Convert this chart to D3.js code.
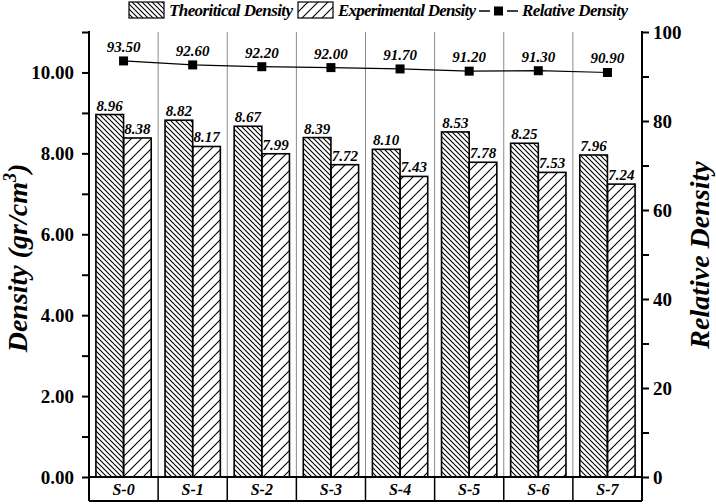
<!DOCTYPE html>
<html>
<head>
<meta charset="utf-8">
<script src="https://cdn.jsdelivr.net/npm/d3@7"></script>
<style>
  html, body { margin: 0; padding: 0; background: #fff; }
  svg { display: block; }
  svg text { font-family: "Liberation Serif", Tinos, "Times New Roman", Times, "DejaVu Serif", serif !important; }
</style>
</head>
<body>
<svg id="chart" width="716" height="504"></svg>
<script>
const categories = ["S-0", "S-1", "S-2", "S-3", "S-4", "S-5", "S-6", "S-7"];
const theoretical = [8.96, 8.82, 8.67, 8.39, 8.10, 8.53, 8.25, 7.96];
const experimental = [8.38, 8.17, 7.99, 7.72, 7.43, 7.78, 7.53, 7.24];
const relative = [93.50, 92.60, 92.20, 92.00, 91.70, 91.20, 91.30, 90.90];
const leftTicks = [0, 1, 2, 3, 4, 5, 6, 7, 8, 9, 10, 11];
const leftLabels = [0, 2, 4, 6, 8, 10];
const rightTicks = [0, 10, 20, 30, 40, 50, 60, 70, 80, 90, 100];
const rightLabels = [0, 20, 40, 60, 80, 100];
const seriesNames = ["Theoritical Density", "Experimental Density", "Relative Density"];

const svg = d3.select("#chart");
const L = 89, R = 642, T = 32, B = 477, BOX = 501;
const FONT = '"Liberation Serif", Tinos, "Times New Roman", Times, "DejaVu Serif", serif';

const x = d3.scaleBand().domain(categories).range([L, R]).paddingInner(0).paddingOuter(0);
const x1 = d3.scaleBand().domain(["t", "e"]).range([0, x.bandwidth()]).paddingInner(0).paddingOuter(0.25);
const yL = d3.scaleLinear().domain([0, 11]).range([B, T]);
const yR = d3.scaleLinear().domain([0, 100]).range([B, T]);

// patterns
const defs = svg.append("defs");
const s1 = 5;
defs.append("pattern").attr("id", "hatchT").attr("patternUnits", "userSpaceOnUse")
  .attr("width", s1).attr("height", s1)
  .append("path")
  .attr("d", `M-1,-1L${s1+1},${s1+1}M${s1-1},-1L${s1+1},1M-1,${s1-1}L1,${s1+1}`)
  .attr("stroke", "#000").attr("stroke-width", 1.1).attr("fill", "none");
const s2 = 10;
defs.append("pattern").attr("id", "hatchE").attr("patternUnits", "userSpaceOnUse")
  .attr("width", s2).attr("height", s2)
  .append("path")
  .attr("d", `M-1,${s2+1}L${s2+1},-1M-1,1L1,-1M${s2-1},${s2+1}L${s2+1},${s2-1}`)
  .attr("stroke", "#000").attr("stroke-width", 1.1).attr("fill", "none");

// gridlines at category boundaries
const bounds = categories.slice(1).map(c => x(c));
svg.append("g").selectAll("line").data(bounds).join("line")
  .attr("x1", d => d).attr("x2", d => d).attr("y1", T).attr("y2", B)
  .attr("stroke", "#8a8a8a").attr("stroke-width", 1);

// bars
const g = svg.append("g").attr("font-family", FONT);
categories.forEach((c, i) => {
  const gx = x(c);
  g.append("rect").attr("x", gx + x1("t")).attr("y", yL(theoretical[i]))
    .attr("width", x1.bandwidth()).attr("height", B - yL(theoretical[i]))
    .attr("fill", "url(#hatchT)").attr("stroke", "#000").attr("stroke-width", 1.6);
  g.append("rect").attr("x", gx + x1("e")).attr("y", yL(experimental[i]))
    .attr("width", x1.bandwidth()).attr("height", B - yL(experimental[i]))
    .attr("fill", "url(#hatchE)").attr("stroke", "#000").attr("stroke-width", 1.6);
  g.append("text").attr("x", gx + x1("t") + x1.bandwidth() / 2).attr("y", yL(theoretical[i]) - 4)
    .attr("text-anchor", "middle").attr("font-size", 15).attr("font-weight", "bold").attr("font-style", "italic")
    .text(theoretical[i].toFixed(2));
  g.append("text").attr("x", gx + x1("e") + x1.bandwidth() / 2).attr("y", yL(experimental[i]) - 4)
    .attr("text-anchor", "middle").attr("font-size", 15).attr("font-weight", "bold").attr("font-style", "italic")
    .text(experimental[i].toFixed(2));
});

// relative density line
const cx = c => x(c) + x.bandwidth() / 2;
const line = d3.line().x((d, i) => cx(categories[i])).y(d => yR(d));
svg.append("path").datum(relative).attr("d", line).attr("fill", "none").attr("stroke", "#000").attr("stroke-width", 1.2);
svg.append("g").selectAll("rect").data(relative).join("rect")
  .attr("x", (d, i) => cx(categories[i]) - 4.5).attr("y", d => yR(d) - 4.5)
  .attr("width", 9).attr("height", 9).attr("fill", "#000");
svg.append("g").selectAll("text").data(relative).join("text")
  .attr("x", (d, i) => cx(categories[i])).attr("y", d => yR(d) - 9)
  .attr("text-anchor", "middle").attr("font-size", 15).attr("font-weight", "bold").attr("font-style", "italic")
  .attr("font-family", FONT)
  .text(d => d.toFixed(2));

// left axis
const axL = svg.append("g").attr("transform", `translate(${L},0)`)
  .call(d3.axisLeft(yL).tickValues(leftTicks).tickSize(7).tickSizeOuter(0)
    .tickFormat(d => leftLabels.includes(d) ? d3.format(".2f")(d) : ""));
axL.attr("font-family", FONT);
axL.select(".domain").remove();
axL.selectAll(".tick line").attr("stroke-width", 2);
axL.selectAll(".tick text").attr("font-size", 19).attr("font-weight", "bold")
  .attr("x", -15).attr("fill", "#000");
svg.append("line").attr("x1", L).attr("x2", L).attr("y1", T - 1).attr("y2", BOX)
  .attr("stroke", "#000").attr("stroke-width", 2);

// right axis
const axR = svg.append("g").attr("transform", `translate(${R},0)`)
  .call(d3.axisRight(yR).tickValues(rightTicks).tickSize(7).tickSizeOuter(0)
    .tickFormat(d => rightLabels.includes(d) ? d3.format("d")(d) : ""));
axR.attr("font-family", FONT);
axR.select(".domain").remove();
axR.selectAll(".tick line").attr("stroke-width", 2);
axR.selectAll(".tick text").attr("font-size", 19).attr("font-weight", "bold")
  .attr("x", 11).attr("fill", "#000");
svg.append("line").attr("x1", R).attr("x2", R).attr("y1", T - 1).attr("y2", BOX)
  .attr("stroke", "#000").attr("stroke-width", 2);

// category box
svg.append("line").attr("x1", L).attr("x2", R).attr("y1", B).attr("y2", B).attr("stroke", "#000").attr("stroke-width", 2);
svg.append("line").attr("x1", L).attr("x2", R).attr("y1", BOX).attr("y2", BOX).attr("stroke", "#000").attr("stroke-width", 2);
svg.append("g").selectAll("line").data(bounds).join("line")
  .attr("x1", d => d).attr("x2", d => d).attr("y1", B).attr("y2", BOX)
  .attr("stroke", "#000").attr("stroke-width", 1.5);
svg.append("g").selectAll("text").data(categories).join("text")
  .attr("x", d => cx(d)).attr("y", 495)
  .attr("text-anchor", "middle").attr("font-size", 16).attr("font-weight", "bold").attr("font-style", "italic")
  .attr("font-family", FONT)
  .text(d => d);

// axis titles
const tl = svg.append("text").attr("transform", `translate(27,258) rotate(-90)`)
  .attr("text-anchor", "middle").attr("font-size", 28).attr("font-weight", "bold").attr("font-style", "italic")
  .attr("font-family", FONT);
tl.append("tspan").text("Density (gr/cm");
tl.append("tspan").attr("font-size", 18).attr("dy", -11).text("3");
tl.append("tspan").attr("dy", 11).text(")");
svg.append("text").attr("transform", `translate(709,255) rotate(-90)`)
  .attr("text-anchor", "middle").attr("font-size", 28).attr("font-weight", "bold").attr("font-style", "italic")
  .attr("font-family", FONT)
  .text("Relative Density");

// legend
const lg = svg.append("g").attr("font-family", FONT);
lg.append("rect").attr("x", 129).attr("y", 2).attr("width", 35).attr("height", 16)
  .attr("fill", "url(#hatchT)").attr("stroke", "#000").attr("stroke-width", 1.2);
lg.append("text").attr("x", 169).attr("y", 16).attr("font-size", 17).attr("font-weight", "bold").attr("font-style", "italic")
  .attr("textLength", 124).text(seriesNames[0]);
lg.append("rect").attr("x", 298).attr("y", 2).attr("width", 35).attr("height", 16)
  .attr("fill", "url(#hatchE)").attr("stroke", "#000").attr("stroke-width", 1.2);
lg.append("text").attr("x", 338).attr("y", 16).attr("font-size", 17).attr("font-weight", "bold").attr("font-style", "italic")
  .attr("textLength", 138).text(seriesNames[1]);
lg.append("line").attr("x1", 479).attr("x2", 490).attr("y1", 11).attr("y2", 11).attr("stroke", "#000").attr("stroke-width", 1.5);
lg.append("line").attr("x1", 507).attr("x2", 518).attr("y1", 11).attr("y2", 11).attr("stroke", "#000").attr("stroke-width", 1.5);
lg.append("rect").attr("x", 494).attr("y", 6.5).attr("width", 9).attr("height", 9).attr("fill", "#000");
lg.append("text").attr("x", 522).attr("y", 16).attr("font-size", 17).attr("font-weight", "bold").attr("font-style", "italic")
  .attr("textLength", 106).text(seriesNames[2]);
</script>
</body>
</html>
